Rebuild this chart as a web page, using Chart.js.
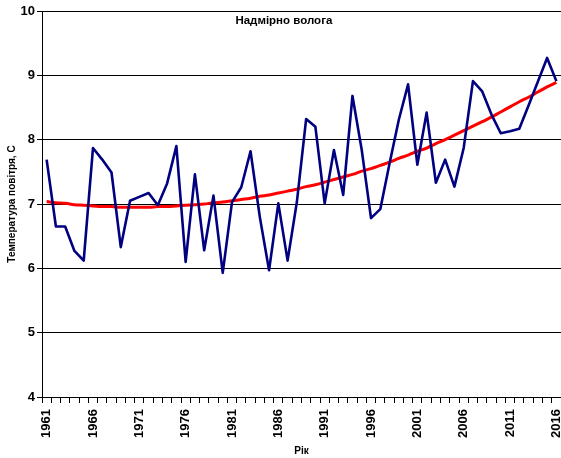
<!DOCTYPE html>
<html>
<head>
<meta charset="utf-8">
<script src="https://cdn.jsdelivr.net/npm/chart.js@4"></script>
<style>
    html, body { margin: 0; padding: 0; background: #fff; }
    canvas { display: block; }
</style>
</head>
<body>
<canvas id="chart" width="561" height="458"></canvas>
<script>
const years = [
    1961, 1962, 1963, 1964, 1965, 1966, 1967, 1968, 1969, 1970,
    1971, 1972, 1973, 1974, 1975, 1976, 1977, 1978, 1979, 1980,
    1981, 1982, 1983, 1984, 1985, 1986, 1987, 1988, 1989, 1990,
    1991, 1992, 1993, 1994, 1995, 1996, 1997, 1998, 1999, 2000,
    2001, 2002, 2003, 2004, 2005, 2006, 2007, 2008, 2009, 2010,
    2011, 2012, 2013, 2014, 2015, 2016
];

// mean air temperature, C
const temperature = [
    7.69, 6.65, 6.65, 6.27, 6.12, 7.87, 7.69, 7.49, 6.33, 7.05,
    7.11, 7.17, 6.98, 7.32, 7.90, 6.10, 7.46, 6.28, 7.13, 5.93,
    7.03, 7.26, 7.82, 6.80, 5.97, 7.01, 6.12, 7.03, 8.32, 8.20,
    7.01, 7.84, 7.14, 8.68, 7.84, 6.78, 6.92, 7.63, 8.31, 8.86,
    7.61, 8.42, 7.33, 7.69, 7.27, 7.87, 8.91, 8.75, 8.39, 8.10,
    8.13, 8.17, 8.53, 8.90, 9.27, 8.91
];

// red trend line
const trend = [
    7.04, 7.02, 7.01, 6.99, 6.98, 6.97, 6.96, 6.96, 6.95, 6.95,
    6.95, 6.95, 6.96, 6.96, 6.97, 6.98, 6.99, 7.00, 7.02, 7.03,
    7.05, 7.07, 7.09, 7.12, 7.14, 7.17, 7.20, 7.23, 7.27, 7.30,
    7.34, 7.38, 7.42, 7.46, 7.51, 7.55, 7.60, 7.65, 7.71, 7.76,
    7.82, 7.87, 7.94, 8.00, 8.07, 8.14, 8.21, 8.28, 8.35, 8.43,
    8.51, 8.59, 8.66, 8.74, 8.82, 8.89
];

const yTicks = [4, 5, 6, 7, 8, 9, 10];

const chartTitle = 'Надмірно волога';
const yTitle = 'Температура повітря, С';
const xTitle = 'Рік';

const font = 'Arial, "Liberation Sans", sans-serif';

// title sits inside the plot area, near the top
const insideTitle = {
    id: 'insideTitle',
    afterDraw(chart) {
        const ctx = chart.ctx;
        const area = chart.chartArea;
        ctx.save();
        ctx.font = 'bold 11.5px ' + font;
        ctx.fillStyle = '#000';
        ctx.textAlign = 'center';
        ctx.textBaseline = 'middle';
        ctx.fillText(chartTitle, area.left + area.width * 0.466, area.top + 10);
        ctx.restore();
    }
};

const ctx = document.getElementById('chart').getContext('2d');
new Chart(ctx, {
    type: 'line',
    data: {
        labels: years,
        datasets: [
            {
                label: 'temperature',
                data: temperature,
                borderColor: '#000080',
                borderWidth: 2.6,
                borderJoinStyle: 'round',
                pointRadius: 0,
                tension: 0,
                fill: false
            },
            {
                label: 'trend',
                data: trend,
                borderColor: '#ff0000',
                borderWidth: 3,
                borderJoinStyle: 'round',
                pointRadius: 0,
                tension: 0.4,
                fill: false
            }
        ]
    },
    options: {
        responsive: false,
        animation: false,
        devicePixelRatio: 1,
        layout: { padding: { top: 11, right: 0, left: 0, bottom: 0 } },
        plugins: {
            legend: { display: false },
            tooltip: { enabled: false }
        },
        scales: {
            x: {
                type: 'category',
                offset: true,
                afterFit: (scale) => {
                    scale.height = 61;
                    scale.paddingLeft = 0;
                    scale.paddingRight = 0;
                },
                grid: {
                    drawOnChartArea: false,
                    offset: true,
                    color: '#000',
                    tickLength: 6
                },
                border: { color: '#000', width: 1 },
                ticks: {
                    autoSkip: false,
                    minRotation: 90,
                    maxRotation: 90,
                    padding: 6,
                    color: '#000',
                    font: { family: font, size: 13, weight: 'bold' },
                    callback: (value, index) => (index % 5 === 0 ? years[index] : '')
                },
                title: {
                    display: true,
                    text: xTitle,
                    color: '#000',
                    padding: { top: 0, bottom: 1 },
                    font: { family: font, size: 10, weight: 'bold' }
                }
            },
            y: {
                min: 4,
                max: 10,
                afterFit: (scale) => { scale.width = 42; },
                afterBuildTicks: (scale) => { scale.ticks = yTicks.map(v => ({ value: v })); },
                grid: {
                    color: '#000',
                    lineWidth: 1,
                    tickLength: 5
                },
                border: { color: '#000', width: 1 },
                ticks: {
                    padding: 2,
                    color: '#000',
                    font: { family: font, size: 13, weight: 'bold' }
                },
                title: {
                    display: true,
                    text: yTitle,
                    color: '#000',
                    padding: { top: 6, bottom: 0 },
                    font: { family: font, size: 10, weight: 'bold' }
                }
            }
        }
    },
    plugins: [insideTitle]
});
</script>
</body>
</html>
